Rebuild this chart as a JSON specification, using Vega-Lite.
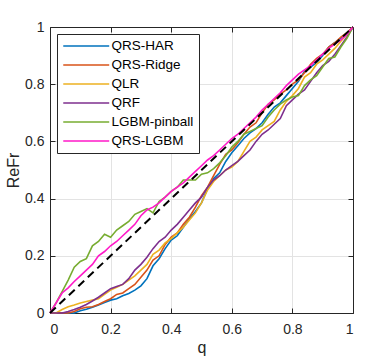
{
  "$schema": "https://vega.github.io/schema/vega-lite/v6.json",
  "autosize": {"type": "none"},
  "width": 303,
  "height": 286,
  "padding": {"left": 50, "top": 27, "right": 36, "bottom": 46},
  "background": "white",
  "config": {
    "view": {"stroke": null},
    "font": "Liberation Sans",
    "axis": {
      "domainColor": "#262626",
      "tickColor": "#262626",
      "labelColor": "#262626",
      "titleColor": "#262626",
      "labelFont": "Liberation Sans",
      "titleFont": "Liberation Sans",
      "labelFontSize": 14,
      "titleFontSize": 16,
      "titleFontWeight": "normal",
      "gridColor": "#e3e3e3",
      "tickSize": -5
    }
  },
  "datasets": {
    "curves": [
      {"q":0.00,"QRS-HAR":0,"QRS-Ridge":0,"QLR":0,"QRF":0,"LGBM-pinball":0,"QRS-LGBM":0},
      {"q":0.02,"QRS-HAR":0,"QRS-Ridge":0,"QLR":0,"QRF":0,"LGBM-pinball":0.035,"QRS-LGBM":0.035},
      {"q":0.04,"QRS-HAR":0,"QRS-Ridge":0,"QLR":0.012,"QRF":0,"LGBM-pinball":0.075,"QRS-LGBM":0.07},
      {"q":0.06,"QRS-HAR":0,"QRS-Ridge":0,"QLR":0.022,"QRF":0.005,"LGBM-pinball":0.115,"QRS-LGBM":0.088},
      {"q":0.08,"QRS-HAR":0,"QRS-Ridge":0.005,"QLR":0.028,"QRF":0.012,"LGBM-pinball":0.16,"QRS-LGBM":0.11},
      {"q":0.10,"QRS-HAR":0.008,"QRS-Ridge":0.015,"QLR":0.035,"QRF":0.02,"LGBM-pinball":0.18,"QRS-LGBM":0.13},
      {"q":0.12,"QRS-HAR":0.013,"QRS-Ridge":0.02,"QLR":0.04,"QRF":0.03,"LGBM-pinball":0.19,"QRS-LGBM":0.15},
      {"q":0.14,"QRS-HAR":0.02,"QRS-Ridge":0.022,"QLR":0.045,"QRF":0.042,"LGBM-pinball":0.235,"QRS-LGBM":0.17},
      {"q":0.16,"QRS-HAR":0.028,"QRS-Ridge":0.03,"QLR":0.05,"QRF":0.055,"LGBM-pinball":0.25,"QRS-LGBM":0.2},
      {"q":0.18,"QRS-HAR":0.037,"QRS-Ridge":0.04,"QLR":0.065,"QRF":0.07,"LGBM-pinball":0.275,"QRS-LGBM":0.215},
      {"q":0.20,"QRS-HAR":0.045,"QRS-Ridge":0.05,"QLR":0.08,"QRF":0.085,"LGBM-pinball":0.265,"QRS-LGBM":0.235},
      {"q":0.22,"QRS-HAR":0.05,"QRS-Ridge":0.065,"QLR":0.09,"QRF":0.093,"LGBM-pinball":0.29,"QRS-LGBM":0.25},
      {"q":0.24,"QRS-HAR":0.06,"QRS-Ridge":0.07,"QLR":0.1,"QRF":0.1,"LGBM-pinball":0.305,"QRS-LGBM":0.27},
      {"q":0.26,"QRS-HAR":0.068,"QRS-Ridge":0.085,"QLR":0.115,"QRF":0.12,"LGBM-pinball":0.32,"QRS-LGBM":0.29},
      {"q":0.28,"QRS-HAR":0.08,"QRS-Ridge":0.1,"QLR":0.13,"QRF":0.15,"LGBM-pinball":0.345,"QRS-LGBM":0.31},
      {"q":0.30,"QRS-HAR":0.095,"QRS-Ridge":0.125,"QLR":0.15,"QRF":0.17,"LGBM-pinball":0.355,"QRS-LGBM":0.34},
      {"q":0.32,"QRS-HAR":0.12,"QRS-Ridge":0.15,"QLR":0.17,"QRF":0.195,"LGBM-pinball":0.365,"QRS-LGBM":0.36},
      {"q":0.34,"QRS-HAR":0.165,"QRS-Ridge":0.185,"QLR":0.205,"QRF":0.225,"LGBM-pinball":0.35,"QRS-LGBM":0.37},
      {"q":0.36,"QRS-HAR":0.19,"QRS-Ridge":0.2,"QLR":0.22,"QRF":0.25,"LGBM-pinball":0.39,"QRS-LGBM":0.385},
      {"q":0.38,"QRS-HAR":0.225,"QRS-Ridge":0.24,"QLR":0.245,"QRF":0.265,"LGBM-pinball":0.405,"QRS-LGBM":0.405},
      {"q":0.40,"QRS-HAR":0.255,"QRS-Ridge":0.265,"QLR":0.26,"QRF":0.29,"LGBM-pinball":0.425,"QRS-LGBM":0.425},
      {"q":0.42,"QRS-HAR":0.27,"QRS-Ridge":0.28,"QLR":0.28,"QRF":0.31,"LGBM-pinball":0.44,"QRS-LGBM":0.44},
      {"q":0.44,"QRS-HAR":0.3,"QRS-Ridge":0.31,"QLR":0.3,"QRF":0.335,"LGBM-pinball":0.465,"QRS-LGBM":0.455},
      {"q":0.46,"QRS-HAR":0.33,"QRS-Ridge":0.335,"QLR":0.325,"QRF":0.36,"LGBM-pinball":0.465,"QRS-LGBM":0.475},
      {"q":0.48,"QRS-HAR":0.355,"QRS-Ridge":0.37,"QLR":0.35,"QRF":0.385,"LGBM-pinball":0.465,"QRS-LGBM":0.495},
      {"q":0.50,"QRS-HAR":0.385,"QRS-Ridge":0.41,"QLR":0.385,"QRF":0.405,"LGBM-pinball":0.485,"QRS-LGBM":0.515},
      {"q":0.52,"QRS-HAR":0.435,"QRS-Ridge":0.44,"QLR":0.43,"QRF":0.44,"LGBM-pinball":0.49,"QRS-LGBM":0.535},
      {"q":0.54,"QRS-HAR":0.47,"QRS-Ridge":0.48,"QLR":0.46,"QRF":0.465,"LGBM-pinball":0.505,"QRS-LGBM":0.55},
      {"q":0.56,"QRS-HAR":0.49,"QRS-Ridge":0.52,"QLR":0.48,"QRF":0.48,"LGBM-pinball":0.525,"QRS-LGBM":0.57},
      {"q":0.58,"QRS-HAR":0.53,"QRS-Ridge":0.555,"QLR":0.5,"QRF":0.5,"LGBM-pinball":0.55,"QRS-LGBM":0.59},
      {"q":0.60,"QRS-HAR":0.56,"QRS-Ridge":0.57,"QLR":0.51,"QRF":0.515,"LGBM-pinball":0.58,"QRS-LGBM":0.61},
      {"q":0.62,"QRS-HAR":0.585,"QRS-Ridge":0.595,"QLR":0.53,"QRF":0.53,"LGBM-pinball":0.6,"QRS-LGBM":0.625},
      {"q":0.64,"QRS-HAR":0.61,"QRS-Ridge":0.625,"QLR":0.565,"QRF":0.55,"LGBM-pinball":0.625,"QRS-LGBM":0.645},
      {"q":0.66,"QRS-HAR":0.63,"QRS-Ridge":0.65,"QLR":0.6,"QRF":0.57,"LGBM-pinball":0.635,"QRS-LGBM":0.665},
      {"q":0.68,"QRS-HAR":0.645,"QRS-Ridge":0.665,"QLR":0.615,"QRF":0.6,"LGBM-pinball":0.645,"QRS-LGBM":0.685},
      {"q":0.70,"QRS-HAR":0.665,"QRS-Ridge":0.7,"QLR":0.64,"QRF":0.625,"LGBM-pinball":0.655,"QRS-LGBM":0.71},
      {"q":0.72,"QRS-HAR":0.695,"QRS-Ridge":0.73,"QLR":0.655,"QRF":0.64,"LGBM-pinball":0.685,"QRS-LGBM":0.73},
      {"q":0.74,"QRS-HAR":0.72,"QRS-Ridge":0.745,"QLR":0.67,"QRF":0.66,"LGBM-pinball":0.71,"QRS-LGBM":0.75},
      {"q":0.76,"QRS-HAR":0.735,"QRS-Ridge":0.765,"QLR":0.71,"QRF":0.68,"LGBM-pinball":0.73,"QRS-LGBM":0.77},
      {"q":0.78,"QRS-HAR":0.76,"QRS-Ridge":0.78,"QLR":0.74,"QRF":0.725,"LGBM-pinball":0.745,"QRS-LGBM":0.795},
      {"q":0.80,"QRS-HAR":0.785,"QRS-Ridge":0.8,"QLR":0.76,"QRF":0.745,"LGBM-pinball":0.755,"QRS-LGBM":0.815},
      {"q":0.82,"QRS-HAR":0.81,"QRS-Ridge":0.815,"QLR":0.785,"QRF":0.765,"LGBM-pinball":0.76,"QRS-LGBM":0.835},
      {"q":0.84,"QRS-HAR":0.845,"QRS-Ridge":0.84,"QLR":0.825,"QRF":0.78,"LGBM-pinball":0.795,"QRS-LGBM":0.85},
      {"q":0.86,"QRS-HAR":0.86,"QRS-Ridge":0.87,"QLR":0.84,"QRF":0.81,"LGBM-pinball":0.815,"QRS-LGBM":0.865},
      {"q":0.88,"QRS-HAR":0.875,"QRS-Ridge":0.89,"QLR":0.87,"QRF":0.84,"LGBM-pinball":0.83,"QRS-LGBM":0.885},
      {"q":0.90,"QRS-HAR":0.9,"QRS-Ridge":0.905,"QLR":0.885,"QRF":0.865,"LGBM-pinball":0.86,"QRS-LGBM":0.905},
      {"q":0.92,"QRS-HAR":0.93,"QRS-Ridge":0.93,"QLR":0.905,"QRF":0.88,"LGBM-pinball":0.89,"QRS-LGBM":0.925},
      {"q":0.94,"QRS-HAR":0.945,"QRS-Ridge":0.945,"QLR":0.925,"QRF":0.905,"LGBM-pinball":0.895,"QRS-LGBM":0.94},
      {"q":0.96,"QRS-HAR":0.96,"QRS-Ridge":0.965,"QLR":0.95,"QRF":0.935,"LGBM-pinball":0.93,"QRS-LGBM":0.955},
      {"q":0.98,"QRS-HAR":0.98,"QRS-Ridge":0.98,"QLR":0.975,"QRF":0.965,"LGBM-pinball":0.96,"QRS-LGBM":0.975},
      {"q":1.00,"QRS-HAR":1,"QRS-Ridge":1,"QLR":1,"QRF":1,"LGBM-pinball":1,"QRS-LGBM":1}
    ],
    "diag": [{"q": 0, "v": 0}, {"q": 1, "v": 1}]
  },
  "layer": [
    {
      "data": {"name": "curves"},
      "transform": [
        {"fold": ["QRS-HAR", "QRS-Ridge", "QLR", "QRF", "LGBM-pinball", "QRS-LGBM"], "as": ["model", "v"]}
      ],
      "mark": {"type": "line", "strokeWidth": 1.6},
      "encoding": {
        "x": {
          "field": "q", "type": "quantitative",
          "scale": {"domain": [0, 1], "nice": false},
          "axis": {"values": [0, 0.2, 0.4, 0.6, 0.8, 1], "format": "~g", "title": "q", "labelPadding": 14, "titlePadding": 3, "grid": true}
        },
        "y": {
          "field": "v", "type": "quantitative",
          "scale": {"domain": [0, 1], "nice": false},
          "axis": {"values": [0, 0.2, 0.4, 0.6, 0.8, 1], "format": "~g", "title": "ReFr", "labelPadding": 11, "titlePadding": 3, "grid": true}
        },
        "color": {
          "field": "model", "type": "nominal",
          "scale": {
            "domain": ["QRS-HAR", "QRS-Ridge", "QLR", "QRF", "LGBM-pinball", "QRS-LGBM"],
            "range": ["#0072BD", "#D95319", "#EDB120", "#7E2F8E", "#77AC30", "#FF19C8"]
          },
          "legend": {
            "title": null,
            "orient": "none",
            "legendX": 7,
            "legendY": 7,
            "symbolType": "M-1,0H7",
            "symbolSize": 132,
            "symbolStrokeWidth": 1.6,
            "labelFontSize": 13.5,
            "labelFont": "Liberation Sans",
            "labelColor": "#000000",
            "labelOffset": 35.5,
            "rowPadding": 5,
            "padding": 5,
            "strokeColor": "#262626",
            "fillColor": "white"
          }
        },
        "order": {"field": "q", "type": "quantitative"}
      }
    },
    {
      "data": {"name": "diag"},
      "mark": {"type": "line", "color": "black", "strokeWidth": 2, "strokeDash": [8, 5]},
      "encoding": {
        "x": {
          "field": "q", "type": "quantitative",
          "scale": {"domain": [0, 1], "nice": false},
          "axis": {"orient": "top", "values": [0, 0.2, 0.4, 0.6, 0.8, 1], "labels": false, "title": null, "grid": false}
        },
        "y": {
          "field": "v", "type": "quantitative",
          "scale": {"domain": [0, 1], "nice": false},
          "axis": {"orient": "right", "values": [0, 0.2, 0.4, 0.6, 0.8, 1], "labels": false, "title": null, "grid": false}
        }
      }
    }
  ],
  "resolve": {"axis": {"x": "independent", "y": "independent"}}
}
